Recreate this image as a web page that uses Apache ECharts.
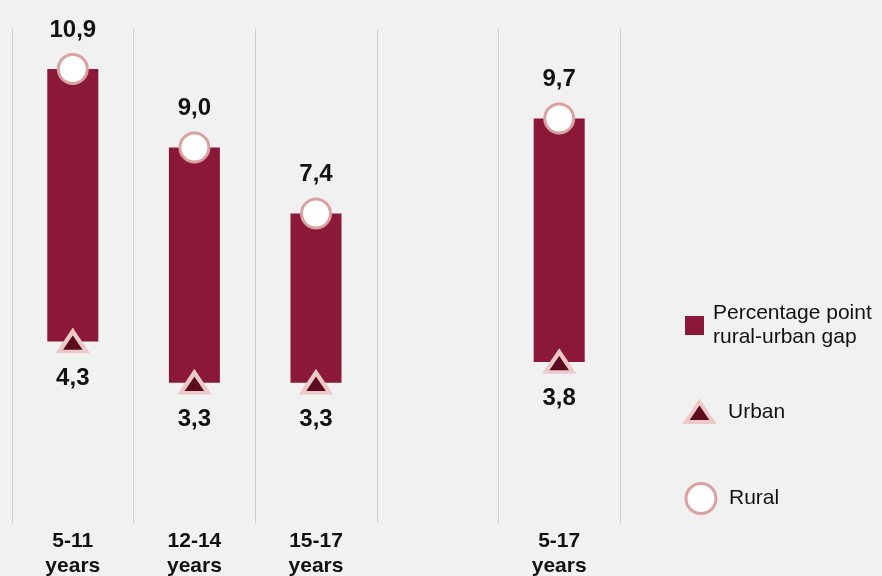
<!DOCTYPE html>
<html>
<head>
<meta charset="utf-8">
<style>
  html, body { margin: 0; padding: 0; background: #f1f1f1; }
  #chart { width: 882px; height: 576px; }
</style>
<script src="https://cdn.jsdelivr.net/npm/echarts@6/dist/echarts.min.js"></script>
</head>
<body>
<div id="chart"></div>
<script>
// Age groups (the empty slot keeps a gap before the overall group)
const categories = ['5-11\nyears', '12-14\nyears', '15-17\nyears', '', '5-17\nyears'];
// Rates in percent
const urban = [4.3, 3.3, 3.3, null, 3.8];
const rural = [10.9, 9.0, 7.4, null, 9.7];

const FONT = 'Liberation Sans, Arial, Helvetica, sans-serif';
const BAR = '#8b1838';
const TRI_FILL = '#5c0a1f';
const TRI_EDGE = '#ecc8c7';
const RING = '#d8a2a0';

const fmt = v => v.toFixed(1).replace('.', ',');

const gapData = categories.map((c, i) =>
  urban[i] == null ? [i, null, null] : [i, urban[i], rural[i]]);

const chart = echarts.init(document.getElementById('chart'));
chart.setOption({
  backgroundColor: '#f1f1f1',
  animation: false,
  textStyle: { fontFamily: FONT },
  grid: { left: 12, right: 262, top: 29, bottom: 53, containLabel: false, outerBoundsMode: 'none' },
  xAxis: {
    type: 'category',
    data: categories,
    boundaryGap: true,
    axisLine: { show: false },
    axisTick: { show: false },
    splitLine: { show: true, interval: 0, lineStyle: { color: '#cfcfcf', width: 1 } },
    axisLabel: {
      interval: 0,
      margin: 6,
      fontFamily: FONT,
      fontSize: 21,
      fontWeight: 'bold',
      lineHeight: 25,
      color: '#111'
    }
  },
  yAxis: {
    type: 'value',
    min: -0.1,
    max: 11.87,
    show: false,
    splitLine: { show: false }
  },
  legend: [
    {
      left: 685, top: 289.5, padding: 0, orient: 'vertical',
      itemWidth: 19, itemHeight: 19,
      data: [{ name: 'Percentage point rural-urban gap', icon: 'rect' }],
      formatter: () => 'Percentage point\nrural-urban gap',
      textStyle: { fontFamily: FONT, fontSize: 21, lineHeight: 24, color: '#111', padding: [24, 0, 0, 4] }
    },
    {
      left: 684, top: 400, padding: 0, orient: 'vertical',
      itemWidth: 27, itemHeight: 20,
      data: [{ name: 'Urban', icon: 'triangle',
               itemStyle: { color: TRI_FILL, borderColor: TRI_EDGE, borderWidth: 4 } }],
      textStyle: { fontFamily: FONT, fontSize: 21, color: '#111', padding: [0, 0, 0, 10] }
    },
    {
      left: 684.5, top: 482, padding: 0, orient: 'vertical',
      itemWidth: 30, itemHeight: 30,
      data: [{ name: 'Rural', icon: 'circle',
               itemStyle: { color: '#ffffff', borderColor: RING, borderWidth: 3 } }],
      textStyle: { fontFamily: FONT, fontSize: 21, color: '#111', padding: [0, 0, 0, 8] }
    }
  ],
  series: [
    {
      name: 'Percentage point rural-urban gap',
      type: 'custom',
      itemStyle: { color: BAR },
      encode: { x: 0, y: [1, 2] },
      data: gapData,
      z: 1,
      renderItem: (params, api) => {
        const lo = api.value(1), hi = api.value(2);
        if (lo == null || hi == null || isNaN(lo) || isNaN(hi)) return null;
        const p0 = api.coord([api.value(0), lo]);
        const p1 = api.coord([api.value(0), hi]);
        const w = 51;
        return {
          type: 'rect',
          shape: { x: p0[0] - w / 2, y: p1[1], width: w, height: p0[1] - p1[1] },
          style: { fill: BAR }
        };
      }
    },
    {
      name: 'Urban',
      type: 'scatter',
      data: urban,
      symbol: 'triangle',
      symbolSize: [27, 20],
      z: 3,
      itemStyle: { color: TRI_FILL, borderColor: TRI_EDGE, borderWidth: 4, opacity: 1 },
      label: {
        show: true, position: 'bottom', distance: 13,
        formatter: p => fmt(p.value),
        fontFamily: FONT, fontSize: 24, fontWeight: 'bold', color: '#111'
      }
    },
    {
      name: 'Rural',
      type: 'scatter',
      data: rural,
      symbol: 'circle',
      symbolSize: 29,
      z: 3,
      itemStyle: { color: '#ffffff', borderColor: RING, borderWidth: 3, opacity: 1 },
      label: {
        show: true, position: 'top', distance: 11,
        formatter: p => fmt(p.value),
        fontFamily: FONT, fontSize: 24, fontWeight: 'bold', color: '#111'
      }
    }
  ]
});
</script>
</body>
</html>
